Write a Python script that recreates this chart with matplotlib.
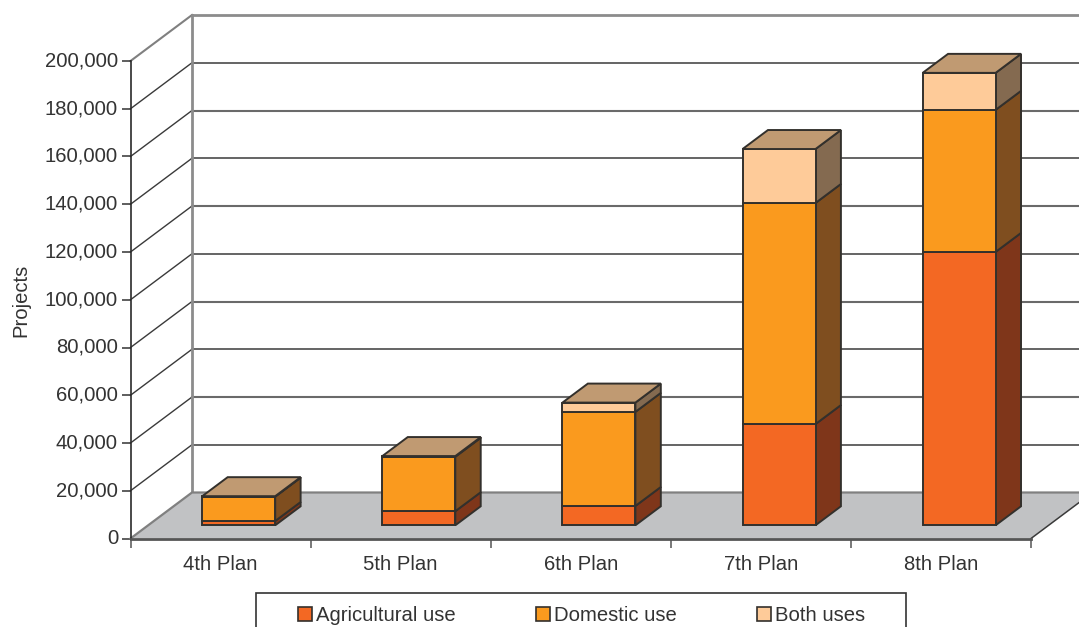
import matplotlib
matplotlib.use("Agg")
import matplotlib.pyplot as plt
import numpy as np
from matplotlib.patches import Patch, Polygon, Rectangle
from matplotlib.ticker import FuncFormatter

plans = ["4th Plan", "5th Plan", "6th Plan", "7th Plan", "8th Plan"]
agricultural = [1800, 5900, 8100, 42400, 114500]
domestic = [10200, 22800, 39400, 92600, 59500]
both = [200, 300, 3900, 22600, 15500]
y_ticks = list(range(0, 200001, 20000))

front_colors = ["#f36823", "#fa9a1e", "#fecb99"]
side_colors = ["#7f361a", "#7f4e1f", "#846a50"]
top_color = "#c09a72"
edge = "#33302c"
text_color = "#333333"

plt.rcParams["font.family"] = ["Liberation Sans", "DejaVu Sans"]
plt.rcParams["font.size"] = 14.6

W, H = 1079, 627
fig = plt.figure(figsize=(W / 100, H / 100), dpi=100)
ax = fig.add_axes([130.5 / W, 1 - 538.5 / H, 900.5 / W, 477.5 / H])
ax.set_xlim(0, 5)
ax.set_ylim(0, 200000)

# oblique offset for one full unit of depth, in data units
DX = 61.5 / 180.1
DY = 46 / 477.5 * 200000


def proj(x, v, d):
    return (x + d * DX, v + d * DY)


def face(pts, color, z, lw=1.4, ec=edge):
    ax.add_patch(Polygon([proj(*p) for p in pts], closed=True, fc=color, ec=ec,
                         lw=lw, zorder=z, clip_on=False, joinstyle="miter"))


# side wall diagonals and back wall gridlines
for v in y_ticks[1:]:
    top_line = v == 200000
    grey = v in (160000, 120000, 80000, 40000)
    col = "#8c8c8c" if top_line else ("#6a6a6a" if grey else "#3a3a3a")
    lw = 2.0 if top_line else (1.5 if grey else 1.1)
    xs, ys = zip(proj(0, v, 0), proj(0, v, 1))
    ax.plot(xs, ys, color="#808080" if top_line else "#3a3a3a", lw=1.5 if top_line else 1.0,
            zorder=1, clip_on=False)
    xs, ys = zip(proj(0, v, 1), proj(5, v, 1))
    ax.plot(xs, ys, color=col, lw=lw, zorder=1, clip_on=False)

wall_x, wall_y = zip(proj(0, 0, 1), proj(0, 200000, 1))
ax.plot(wall_x, wall_y, color="#8c8c8c", lw=2, zorder=1.5, clip_on=False)

# floor
face([(0, 0, 0), (5, 0, 0), (5, 0, 1), (0, 0, 1)], "#c1c2c4", 2, lw=0, ec="none")
xs, ys = zip(proj(0, 0, 0), proj(0, 0, 1), proj(5, 0, 1))
ax.plot(xs, ys, color="#808080", lw=1.6, zorder=2.1, clip_on=False)
xs, ys = zip(proj(5, 0, 0), proj(5, 0, 1))
ax.plot(xs, ys, color="#3a3a3a", lw=1.1, zorder=2.1, clip_on=False)

# stacked blocks
bar_w = 0.405
d0, d1 = 0.287, 0.70
for i in range(len(plans)):
    left = i + 0.503 - bar_w / 2
    right = i + 0.503 + bar_w / 2
    base = 0
    for k, series in enumerate([agricultural, domestic, both]):
        top = base + series[i]
        face([(right, base, d0), (right, base, d1), (right, top, d1), (right, top, d0)],
             side_colors[k], 3)
        face([(left, base, d0), (right, base, d0), (right, top, d0), (left, top, d0)],
             front_colors[k], 4)
        base = top
    face([(left, base, d0), (right, base, d0), (right, base, d1), (left, base, d1)],
         top_color, 4)

# axes furniture
for s in ("top", "right"):
    ax.spines[s].set_visible(False)
ax.spines["left"].set_color("#2a2a2a")
ax.spines["left"].set_linewidth(1.2)
ax.spines["left"].set_zorder(5)
ax.spines["bottom"].set_color("#555555")
ax.spines["bottom"].set_linewidth(2)
ax.spines["bottom"].set_zorder(5)
ax.patch.set_visible(False)

ax.set_yticks(y_ticks)
ax.yaxis.set_major_formatter(FuncFormatter(lambda v, _: f"{int(v):,}"))
ax.tick_params(axis="y", length=6.5, width=1.1, color="#333333", pad=2.5,
               labelcolor=text_color)
for lab in ax.get_yticklabels():
    lab.set_verticalalignment("center")
ax.set_xticks(np.arange(6))
ax.set_xticklabels([])
ax.set_xticks(np.arange(5) + 0.5, plans, minor=True)
ax.tick_params(axis="x", which="major", length=6.5, width=1.1, color="#555555")
ax.tick_params(axis="x", which="minor", length=0, pad=12, labelcolor=text_color)

fig.text(21 / W, 1 - 300 / H, "Projects", rotation=90, ha="center", va="center",
         color=text_color, fontsize=14.6)

# legend box runs past the lower edge of the figure
fig.add_artist(Rectangle((256 / W, 1 - 640 / H), 650 / W, 47 / H, transform=fig.transFigure,
                         fc="white", ec="#333333", lw=1.2))
handles = [Patch(fc=c, ec=edge, lw=1.2) for c in front_colors]
leg = fig.legend(handles, ["Agricultural use", "Domestic use", "Both uses"],
                 loc="upper left", bbox_to_anchor=(298 / W, 1 - 606 / H), ncols=3,
                 frameon=False, borderpad=0, borderaxespad=0, handlelength=0.7,
                 handleheight=0.7, handletextpad=0.2, columnspacing=3.95,
                 labelcolor=text_color)
leg.set_zorder(6)

fig.savefig("out.png", dpi=100)
